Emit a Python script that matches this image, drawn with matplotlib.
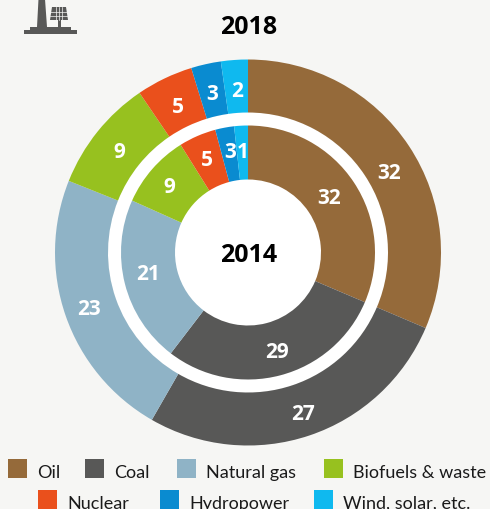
import matplotlib
matplotlib.use('Agg')
import matplotlib.pyplot as plt
from matplotlib.patches import Rectangle, Polygon, Circle

plt.rcParams['font.family'] = ['Lato', 'DejaVu Sans']
BOLD_FONT = ['Open Sans', 'DejaVu Sans']

BG = '#f6f6f4'
categories = ['Oil', 'Coal', 'Natural gas', 'Biofuels & waste', 'Nuclear', 'Hydropower', 'Wind, solar, etc.']
colors = ['#956a3a', '#585857', '#8fb3c6', '#97c11f', '#ea501c', '#0a8bd0', '#0fb9ef']
# printed numbers
labels_2018 = [32, 27, 23, 9, 5, 3, 2]
labels_2014 = [32, 29, 21, 9, 5, 3, 1]
# slice sizes, they are not exactly the rounded labels
shares_2018 = [31.4, 26.9, 22.75, 9.45, 4.75, 2.5, 2.25]
shares_2014 = [31.4, 29.0, 21.3, 9.4, 4.75, 2.4, 1.75]

# legend squares: x position of each entry, row y
legend_x = [8, 85, 177, 324, 38, 160, 314]
legend_y = [460, 460, 460, 460, 491, 491, 491]

# the labels do not sit exactly at the middle of their slices
nudge_2018 = [(3, -11), (3, -5), (-3, -2), (0, -2), (1, -3), (0, -2), (1, -3)]
nudge_2014 = [(-4, -1), (3, 0), (-1, 4), (-2, -1), (0, -1), (1, 1), (0, -1)]

fig = plt.figure(figsize=(4.9, 5.1), dpi=100, facecolor=BG)
ax = fig.add_axes([0, 0, 1, 1])
ax.set_xlim(0, 490)
ax.set_ylim(510, 0)
ax.axis('off')

# pie needs a y-up axes, so it gets its own one on top
pie_ax = fig.add_axes([0, 0, 1, 1])
pie_ax.axis('off')
pie_ax.patch.set_alpha(0)

center = (248, 510 - 253.5)
pie_ax.add_patch(Circle(center, 140, facecolor='white', edgecolor='none', zorder=0))


def ring(values, labels, radius, inner, label_r, nudges):
    wedges, texts = pie_ax.pie(
        values, colors=colors, center=center, radius=radius,
        startangle=90, counterclock=False, frame=False, normalize=True,
        labels=[str(v) for v in labels], labeldistance=label_r / radius,
        wedgeprops=dict(width=radius - inner, linewidth=0),
        textprops=dict(color='white', fontsize=15, fontweight='bold', family=BOLD_FONT),
    )
    for t, (dx, dy) in zip(texts, nudges):
        t.set_ha('center')
        t.set_va('center')
        x, y = t.get_position()
        t.set_position((x + dx, y + dy))


ring(shares_2018, labels_2018, 193, 140, 165, nudge_2018)
ring(shares_2014, labels_2014, 127, 73, 102, nudge_2014)
pie_ax.set_xlim(0, 490)
pie_ax.set_ylim(0, 510)
pie_ax.set_aspect('equal')
pie_ax.axis('off')

ax.text(249, 27, '2018', fontsize=18, fontweight='bold', family=BOLD_FONT, color='black', ha='center', va='center')
pie_ax.text(249, 510 - 255, '2014', fontsize=18, fontweight='bold', family=BOLD_FONT, color='black', ha='center', va='center', zorder=10)

# legend
for name, c, x, y in zip(categories, colors, legend_x, legend_y):
    ax.add_patch(Rectangle((x, y), 19, 19, facecolor=c, edgecolor='none'))
    ax.text(x + 29, y + 18, name, fontsize=13, color='#1a1a1a', ha='left', va='baseline')

# chimney + solar panel icon
icon = '#585857'
ax.add_patch(Polygon([(24, 35), (24, 31), (30, 31), (30, 28), (37, 28), (38.5, 0), (45, 0), (47, 28),
                      (71, 28), (71, 31), (77, 31), (77, 35)], closed=True, facecolor=icon, edgecolor='none'))
ax.add_patch(Polygon([(52, 8), (66, 8), (68, 21), (50, 21)], closed=True, facecolor=icon, edgecolor='none'))
ax.add_patch(Rectangle((58, 21), 3, 8, facecolor=icon, edgecolor='none'))
for yy in (12.5, 17):
    ax.plot([50, 68], [yy, yy], color=BG, lw=0.5)
for xx in (56, 59, 62):
    ax.plot([xx, xx], [8, 21], color=BG, lw=0.5)

fig.savefig('out.png', dpi=100, facecolor=BG)
